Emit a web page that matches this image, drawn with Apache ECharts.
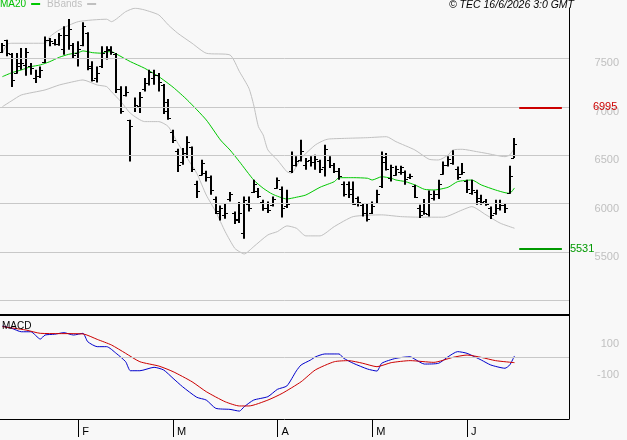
<!DOCTYPE html>
<html><head><meta charset="utf-8">
<script src="https://cdn.jsdelivr.net/npm/echarts@6/dist/echarts.min.js"></script>
<style>html,body{margin:0;padding:0;background:#f8f8f8}#c{width:627px;height:440px}</style>
</head><body><div id="c"></div><script>
// ---- data ----
const barHigh = [7659,7693,7556,7556,7607,7607,7452,7383,7417,7727,
7711,7700,7762,7831,7907,7659,7676,7872,7769,7469,
7417,7624,7624,7624,7556,7211,7211,6867,7097,7153,
7297,7383,7383,7349,7235,7081,6763,6567,6574,6695,
6591,6237,6454,6340,6291,6074,5981,6006,6120,5920,
6016,6074,6074,6247,6161,6040,6023,6074,6271,6178,
6143,6539,6488,6660,6471,6488,6505,6454,6608,6488,
6419,6367,6229,6229,6229,6074,6006,6006,6023,6143,
6539,6523,6402,6391,6391,6343,6309,6195,5988,6047,
6136,6136,6247,6436,6488,6550,6384,6419,6247,6247,
6143,6092,6047,5971,6040,6040,6006,6391,6678];
const barLow = [7556,7521,7205,7342,7383,7321,7332,7246,7297,7452,
7624,7634,7631,7538,7590,7504,7417,7624,7376,7262,
7252,7400,7487,7538,7142,6929,7107,6436,6946,6936,
7159,7221,7228,7159,6925,6867,6626,6326,6402,6471,
6326,6058,6291,6229,6092,5893,5827,5844,6023,5790,
5800,5637,5920,6109,6058,5927,5903,5971,6154,5858,
5954,6316,6384,6436,6350,6384,6350,6316,6281,6367,
6316,6247,6074,6058,5988,5971,5868,5816,5893,6006,
6161,6343,6229,6288,6298,6195,6254,6058,5851,5885,
5868,6033,6047,6298,6384,6402,6247,6298,6109,6092,
5988,5988,5978,5841,5885,5930,5903,6102,6471];
const barOpen = [7566,7690,7540,7349,7420,7430,7420,7300,7320,7460,
7690,7660,7650,7600,7740,7640,7560,7640,7760,7420,
7300,7420,7580,7590,7540,7180,7120,6860,7000,7011,
7180,7250,7300,7330,7220,7050,6740,6540,6430,6520,
6580,6200,6300,6320,6270,6050,5900,5880,6050,5900,
5830,5700,6000,6120,6130,6020,5950,5990,6160,6150,
5980,6340,6400,6450,6400,6450,6430,6440,6380,6450,
6400,6340,6200,6200,6150,6060,5990,5900,5900,6010,
6180,6480,6260,6300,6330,6330,6280,6180,5960,5920,
5890,6060,6100,6310,6400,6420,6360,6310,6230,6110,
6120,6060,6030,5950,5900,5950,5990,6109,6474];
const barClose = [7638,7560,7273,7450,7450,7570,7400,7320,7380,7690,
7680,7650,7740,7740,7800,7530,7600,7830,7400,7280,
7350,7560,7600,7570,7180,6960,7150,6800,7022,7100,
7250,7360,7330,7260,6960,6880,6660,6400,6520,6640,
6360,6130,6420,6280,6140,5920,5950,5900,6100,5840,
5900,6040,5960,6200,6080,5960,5930,6050,6240,5960,
6000,6400,6440,6540,6440,6430,6460,6360,6560,6400,
6340,6290,6100,6100,6000,6020,5900,5840,5980,6100,
6430,6360,6380,6360,6380,6250,6290,6070,5880,5900,
6100,6100,6200,6400,6460,6500,6280,6330,6150,6140,
6030,6020,6000,5880,5950,5990,5960,6281,6618];

const maIdx = [0,2,4,6,8,10,12,14,16,17,19,21,22,23,24,27,30,33,36,39,43,46,48,50,53,55,57,60,62,64,67,70,71,74,77,78,80,82,83,85,87,89,91,94,96,99,101,104,106,107,108];
const maVal = [7311,7352,7380,7414,7432,7466,7511,7542,7559,7577,7559,7553,7569,7569,7546,7466,7398,7311,7202,7070,6864,6657,6554,6433,6244,6159,6097,6048,6066,6089,6169,6227,6268,6268,6262,6244,6278,6262,6244,6227,6193,6148,6141,6169,6227,6244,6193,6141,6113,6107,6162];

const ubIdx = [0,1,2,9,10,12,16,22,23,26,28,30,33,35,37,40,43,48,50,52,53,54,55,56,58,60,61,62,63,66,68,69,73,77,81,83,87,90,92,94,95,97,100,102,106,107,108];
const ubVal = [7553,7646,7656,7656,7724,7793,7879,7904,7879,7982,8018,8000,7948,7845,7759,7656,7553,7535,7363,7191,7019,6795,6709,6554,6451,6330,6313,6382,6468,6606,6657,6668,6675,6681,6691,6640,6554,6458,6451,6502,6554,6561,6537,6520,6485,6502,6572];

const lbIdx = [0,2,4,9,12,16,17,20,22,23,25,27,30,33,35,37,39,41,43,45,47,49,50,51,53,56,58,60,62,64,67,70,74,80,84,88,93,97,99,102,105,108];
const lbVal = [7001,7063,7122,7174,7225,7270,7277,7225,7208,7156,7053,6933,6847,6847,6795,6624,6468,6313,6089,5917,5710,5539,5504,5480,5556,5677,5711,5770,5746,5667,5667,5763,5866,5884,5866,5860,5860,5935,5969,5884,5798,5746];

const macdIdx = [0,2,4,6,8,9,11,13,15,17,18,20,22,24,26,27,29,32,34,36,38,41,43,45,48,50,51,53,56,58,60,62,63,65,66,68,71,72,74,77,79,80,83,86,87,89,92,94,96,98,101,103,106,107,108];
const macdVal = [199,184,162,162,115,141,146,156,141,152,98,66,66,23,-31,-89,-89,-67,-84,-138,-192,-260,-278,-331,-338,-349,-321,-278,-256,-209,-187,-90,-52,-20,0,19,19,-9,-41,-78,-91,-41,-9,1,-15,-46,-41,1,34,23,-20,-52,-73,-52,6];

const sigIdx = [0,5,8,17,20,23,26,29,33,36,40,43,47,50,52,56,59,63,66,70,73,76,79,82,86,91,95,98,101,104,108];
const sigVal = [195,173,152,148,113,77,23,-31,-59,-95,-160,-224,-289,-316,-316,-278,-235,-160,-84,-31,-24,-41,-63,-37,-24,-35,-3,12,-3,-24,-37];

const slotCount = 120;
const monthIdx = [16,36,58,78,98];
const monthLabels = ['F','M','A','M','J'];
const priceGrid = [5000,5500,6000,6500,7000,7500];
const priceLabels = [5500,6000,6500,7000,7500];
const macdLabels = [100,-100];
const levelValues = [6995,5531];
const levelColors = ['#cc0000','#009900'];
const levelLabelDist = [31,8];
const levelFrom = 109, levelTo = 118;

// ---- build ----
const categories = Array.from({length: slotCount}, (_, i) => String(i));
const ohlc = barOpen.map((o, i) => [i, o, barHigh[i], barLow[i], barClose[i]]);
const pairs = (ix, v) => ix.map((x, k) => [x, v[k]]);
const FONT = 'Liberation Sans';

const chart = echarts.init(document.getElementById('c'), null, {renderer: 'canvas'});
chart.setOption({
  animation: false,
  backgroundColor: '#f8f8f8',
  textStyle: {fontFamily: FONT},
  title: [
    {text: 'MACD', left: 2, top: 321, padding: 0, textStyle: {fontSize: 10, fontWeight: 'normal', color: '#000', fontFamily: FONT}},
    {text: '© TEC 16/6/2026 3:0 GMT', right: 53, top: 0, padding: 0, textStyle: {fontSize: 10.5, fontStyle: 'italic', fontWeight: 'normal', color: '#000', fontFamily: FONT}}
  ],
  legend: {
    left: 0, top: -1, padding: 0, align: 'right', icon: 'rect', itemWidth: 9, itemHeight: 2, itemGap: 7,
    textStyle: {fontSize: 10, fontFamily: FONT},
    data: [{name: 'MA20', textStyle: {color: '#00c000'}}, {name: 'BBands', textStyle: {color: '#c0c0c0'}}]
  },
  grid: [
    {left: 0, right: 58, top: 8, height: 307, containLabel: false, outerBoundsMode: 'none'},
    {left: 0, right: 58, top: 315, height: 104, containLabel: false, outerBoundsMode: 'none'}
  ],
  xAxis: [
    {type: 'category', gridIndex: 0, data: categories, boundaryGap: true,
     axisLine: {onZero: false, lineStyle: {color: '#000', width: 2}}, axisTick: {show: false}, axisLabel: {show: false}, splitLine: {show: false}},
    {type: 'category', gridIndex: 1, data: categories, boundaryGap: true,
     axisLine: {onZero: false, lineStyle: {color: '#000', width: 1}},
     axisTick: {show: true, alignWithLabel: true, length: 18, interval: (i) => monthIdx.includes(i), lineStyle: {color: '#000'}},
     axisLabel: {interval: (i) => monthIdx.includes(i), formatter: (v) => monthLabels[monthIdx.indexOf(Number(v))] || '',
       align: 'left', padding: [0, 0, 0, 4], margin: 7, color: '#000', fontSize: 11, fontFamily: FONT},
     splitLine: {show: false}}
  ],
  yAxis: [
    {type: 'value', gridIndex: 0, position: 'right', min: 4850, max: 8020, interval: 50,
     axisLine: {show: true, lineStyle: {color: '#000', width: 1}}, axisTick: {show: false}, splitLine: {show: false},
     axisLabel: {formatter: (v) => priceLabels.includes(v) ? String(v) : '', color: '#c0c0c0', fontSize: 11, fontFamily: FONT,
       align: 'right', margin: 50, verticalAlign: 'top', lineHeight: 10}},
    {type: 'value', gridIndex: 1, position: 'right', min: -400, max: 270, interval: 10,
     axisLine: {show: true, lineStyle: {color: '#000', width: 1}}, axisTick: {show: false}, splitLine: {show: false},
     axisLabel: {formatter: (v) => macdLabels.includes(v) ? String(v) : '', color: '#c0c0c0', fontSize: 11, fontFamily: FONT,
       align: 'right', margin: 50, verticalAlign: 'top', lineHeight: 6}}
  ],
  series: [
    {name: 'gridMain', type: 'line', xAxisIndex: 0, yAxisIndex: 0, data: [], z: 1,
     markLine: {silent: true, symbol: ['none', 'none'], animation: false, label: {show: false},
       lineStyle: {color: '#c8c8c8', width: 1, type: 'solid'}, data: priceGrid.map(v => ({yAxis: v}))}},
    {name: 'gridMacd', type: 'line', xAxisIndex: 1, yAxisIndex: 1, data: [], z: 1,
     markLine: {silent: true, symbol: ['none', 'none'], animation: false, label: {show: false},
       lineStyle: {color: '#c8c8c8', width: 1, type: 'solid'}, data: [{yAxis: 0}]}},
    {name: 'BBands', type: 'line', xAxisIndex: 0, yAxisIndex: 0, data: pairs(ubIdx, ubVal), showSymbol: false, smooth: 0.2,
     color: '#c0c0c0', lineStyle: {color: '#c0c0c0', width: 1}, z: 2},
    {name: 'BBands', type: 'line', xAxisIndex: 0, yAxisIndex: 0, data: pairs(lbIdx, lbVal), showSymbol: false, smooth: 0.2,
     color: '#c0c0c0', lineStyle: {color: '#c0c0c0', width: 1}, z: 2},
    {name: 'MA20', type: 'line', xAxisIndex: 0, yAxisIndex: 0, data: pairs(maIdx, maVal), showSymbol: false, smooth: 0.2,
     color: '#00c800', lineStyle: {color: '#00c800', width: 1}, z: 3},
    {name: 'OHLC', type: 'custom', xAxisIndex: 0, yAxisIndex: 0, data: ohlc, z: 4,
     encode: {x: 0, y: [1, 2, 3, 4]},
     renderItem: function (params, api) {
       const i = api.value(0);
       const pO = api.coord([i, api.value(1)]);
       const pH = api.coord([i, api.value(2)]);
       const pL = api.coord([i, api.value(3)]);
       const pC = api.coord([i, api.value(4)]);
       const x = Math.round(pH[0]);
       return {type: 'group', children: [
         {type: 'line', shape: {x1: x, y1: pH[1], x2: x, y2: pL[1]}, style: {stroke: '#000', lineWidth: 2}},
         {type: 'line', shape: {x1: x - 3, y1: Math.round(pO[1]) + 0.5, x2: x, y2: Math.round(pO[1]) + 0.5}, style: {stroke: '#000', lineWidth: 1}},
         {type: 'line', shape: {x1: x, y1: Math.round(pC[1]) + 0.5, x2: x + 3, y2: Math.round(pC[1]) + 0.5}, style: {stroke: '#000', lineWidth: 1}}
       ]};
     }},
    {name: 'levels', type: 'line', xAxisIndex: 0, yAxisIndex: 0, data: [], z: 5,
     markLine: {silent: true, symbol: ['none', 'none'], animation: false,
       data: levelValues.map((v, k) => [
         {coord: [levelFrom, v], lineStyle: {color: levelColors[k], width: 2, type: 'solid'},
          label: {show: true, position: 'end', formatter: String(v), color: levelColors[k], fontSize: 11, fontFamily: FONT, distance: levelLabelDist[k]}},
         {coord: [levelTo, v]}
       ])}},
    {name: 'MACD', type: 'line', xAxisIndex: 1, yAxisIndex: 1, data: pairs(macdIdx, macdVal), showSymbol: false, smooth: 0.2,
     color: '#0000cc', lineStyle: {color: '#0000cc', width: 1}, z: 3},
    {name: 'Signal', type: 'line', xAxisIndex: 1, yAxisIndex: 1, data: pairs(sigIdx, sigVal), showSymbol: false, smooth: 0.2,
     color: '#cc0000', lineStyle: {color: '#cc0000', width: 1}, z: 3}
  ]
});
</script></body></html>
